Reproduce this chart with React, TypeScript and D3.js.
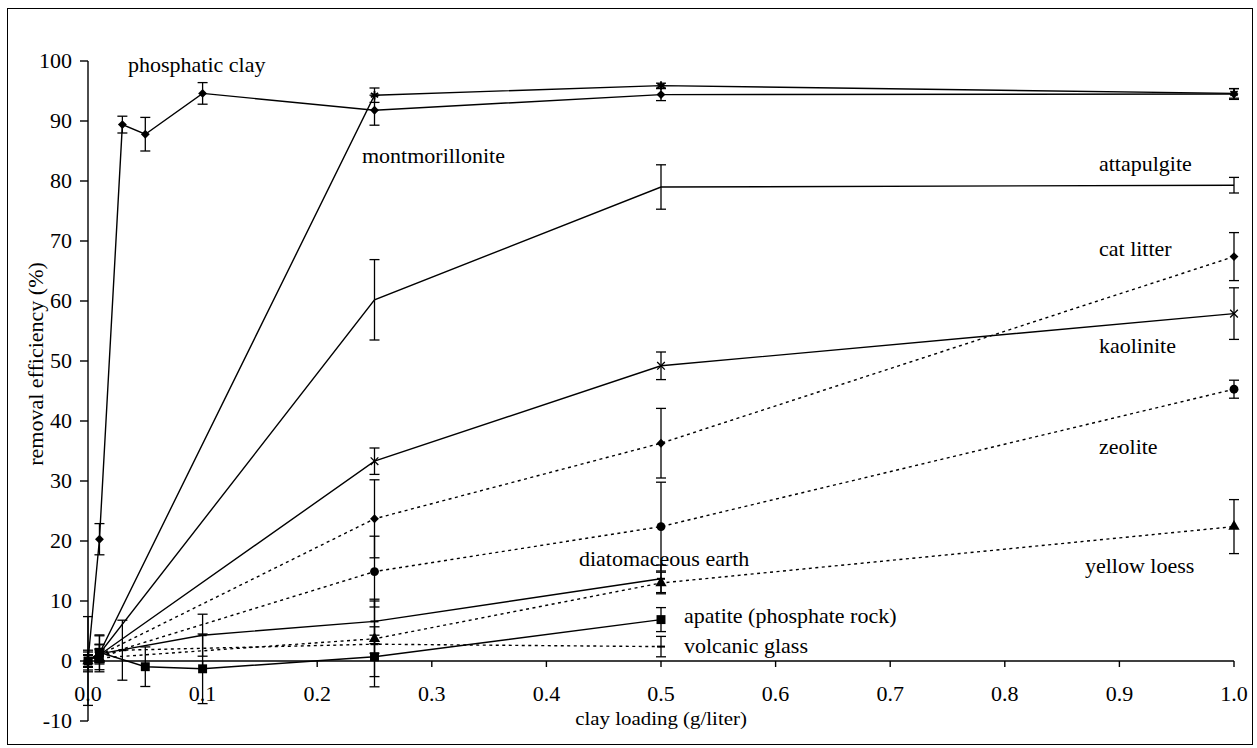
import React from 'react'
import * as d3 from 'd3'

const FONT = '"Liberation Serif", "Times New Roman", serif'

// x positions (g/liter) and removal efficiency (%) with error (+/-) for each clay
const phosphaticX = [0, 0.01, 0.03, 0.05, 0.1, 0.25, 0.5, 1.0]
const phosphaticY = [0, 20.3, 89.4, 87.8, 94.6, 91.8, 94.4, 94.5]
const phosphaticErr = [0, 2.6, 1.4, 2.8, 1.8, 2.5, 1.0, 0.9]

const montmorilloniteX = [0, 0.01, 0.25, 0.5, 1.0]
const montmorilloniteY = [0, 1.3, 94.3, 95.9, 94.6]
const montmorilloniteErr = [1.5, 1.5, 1.2, 0.4, 0.8]

const attapulgiteX = [0, 0.01, 0.25, 0.5, 1.0]
const attapulgiteY = [0, 1.2, 60.2, 79.0, 79.3]
const attapulgiteErr = [7.4, 1.5, 6.7, 3.7, 1.3]

const kaoliniteX = [0, 0.01, 0.25, 0.5, 1.0]
const kaoliniteY = [0, 1.0, 33.3, 49.2, 57.9]
const kaoliniteErr = [1.0, 1.0, 2.2, 2.3, 4.3]

const catLitterX = [0, 0.01, 0.25, 0.5, 1.0]
const catLitterY = [0, 1.0, 23.7, 36.3, 67.4]
const catLitterErr = [1.0, 1.0, 6.5, 5.8, 4.0]

const zeoliteX = [0, 0.01, 0.25, 0.5, 1.0]
const zeoliteY = [0, 0.8, 14.9, 22.4, 45.3]
const zeoliteErr = [1.0, 1.0, 5.9, 7.4, 1.5]

const yellowLoessX = [0, 0.01, 0.25, 0.5, 1.0]
const yellowLoessY = [0, 0.5, 3.7, 13.0, 22.4]
const yellowLoessErr = [1.0, 1.0, 6.3, 1.8, 4.5]

const diatomaceousX = [0, 0.01, 0.1, 0.25, 0.5]
const diatomaceousY = [0, 1.2, 4.3, 6.6, 13.7]
const diatomaceousErr = [1.0, 3.0, 3.5, 3.7, 2.3]

const apatiteX = [0, 0.01, 0.05, 0.1, 0.25, 0.5]
const apatiteY = [0, 1.45, -0.95, -1.3, 0.7, 6.9]
const apatiteErr = [1.8, 2.9, 3.3, 5.8, 5.0, 2.0]

const volcanicX = [0, 0.03, 0.25, 0.5]
const volcanicY = [0, 1.8, 2.8, 2.4]
const volcanicErr = [1.0, 5.0, 1.5, 1.7]

const xTicks = [0, 0.1, 0.2, 0.3, 0.4, 0.5, 0.6, 0.7, 0.8, 0.9, 1.0]
const yTicks = [-10, 0, 10, 20, 30, 40, 50, 60, 70, 80, 90, 100]

const series = [
  { name: 'phosphatic clay', xs: phosphaticX, ys: phosphaticY, err: phosphaticErr, dotted: false, marker: 'diamond' },
  { name: 'montmorillonite', xs: montmorilloniteX, ys: montmorilloniteY, err: montmorilloniteErr, dotted: false, marker: 'star' },
  { name: 'attapulgite', xs: attapulgiteX, ys: attapulgiteY, err: attapulgiteErr, dotted: false, marker: 'none' },
  { name: 'kaolinite', xs: kaoliniteX, ys: kaoliniteY, err: kaoliniteErr, dotted: false, marker: 'x' },
  { name: 'cat litter', xs: catLitterX, ys: catLitterY, err: catLitterErr, dotted: true, marker: 'diamond' },
  { name: 'zeolite', xs: zeoliteX, ys: zeoliteY, err: zeoliteErr, dotted: true, marker: 'circle' },
  { name: 'yellow loess', xs: yellowLoessX, ys: yellowLoessY, err: yellowLoessErr, dotted: true, marker: 'triangle' },
  { name: 'diatomaceous earth', xs: diatomaceousX, ys: diatomaceousY, err: diatomaceousErr, dotted: false, marker: 'dash' },
  { name: 'apatite (phosphate rock)', xs: apatiteX, ys: apatiteY, err: apatiteErr, dotted: false, marker: 'square' },
  { name: 'volcanic glass', xs: volcanicX, ys: volcanicY, err: volcanicErr, dotted: true, marker: 'dash' },
]

// where each series name sits on the plot (px)
const labelPos = {
  'phosphatic clay': [128, 72],
  'montmorillonite': [362, 163],
  'attapulgite': [1099, 171],
  'cat litter': [1099, 256],
  'kaolinite': [1099, 353],
  'zeolite': [1099, 454],
  'yellow loess': [1085, 573],
  'diatomaceous earth': [579, 566],
  'apatite (phosphate rock)': [684, 623],
  'volcanic glass': [684, 653],
}

const SX = 1.1 // the source figure is a bit stretched sideways

const Label = ({ x, y, anchor = 'start', children, size = 20 }) => (
  <text
    transform={`translate(${x},${y}) scale(${SX},1)`}
    textAnchor={anchor}
    fontFamily={FONT}
    fontSize={size}
    fill="#000"
  >
    {children}
  </text>
)

const Marker = ({ type, cx, cy }) => {
  const t = `translate(${cx},${cy})`
  if (type === 'diamond') return <path transform={t} d={d3.symbol(d3.symbolDiamond2, 50)()} fill="#000" />
  if (type === 'square') return <path transform={t} d={d3.symbol(d3.symbolSquare, 80)()} fill="#000" />
  if (type === 'circle') return <path transform={t} d={d3.symbol(d3.symbolCircle, 62)()} fill="#000" />
  if (type === 'triangle') return <path transform={t} d={d3.symbol(d3.symbolTriangle, 55)()} fill="#000" />
  if (type === 'x') return <path transform={t} d={d3.symbol(d3.symbolTimes, 40)()} fill="none" stroke="#000" strokeWidth={1.3} />
  if (type === 'star') return <path transform={t} d={d3.symbol(d3.symbolAsterisk, 50)()} fill="none" stroke="#000" strokeWidth={1.8} />
  if (type === 'dash') return <line x1={cx - 4} x2={cx + 4} y1={cy} y2={cy} stroke="#000" strokeWidth={2} />
  return null
}

export default function App () {
  const width = 1257
  const height = 748
  const x = d3.scaleLinear().domain([0, 1]).range([88, 1234])
  const y = d3.scaleLinear().domain([-10, 100]).range([721, 61])
  const line = d3.line().x(d => x(d[0])).y(d => y(d[1]))

  return (
    <svg width={width} height={height} style={{ position: 'absolute', left: 0, top: 0, background: '#fff' }}>
      <rect x={7.5} y={8.5} width={1245} height={736} fill="#fff" stroke="#000" strokeWidth={1} />

      {/* axes */}
      <line x1={x(0)} x2={x(0)} y1={y(100)} y2={y(-10)} stroke="#000" strokeWidth={1.4} />
      <line x1={x(0)} x2={x(1)} y1={y(0)} y2={y(0)} stroke="#000" strokeWidth={1.4} />
      {yTicks.map(t => (
        <g key={t}>
          <line x1={x(0) - 8} x2={x(0)} y1={y(t)} y2={y(t)} stroke="#000" strokeWidth={1.4} />
          <Label x={x(0) - 16} y={y(t) + 7} anchor="end">{t}</Label>
        </g>
      ))}
      {xTicks.map(t => (
        <g key={t}>
          <line x1={x(t)} x2={x(t)} y1={y(0)} y2={y(0) + 6} stroke="#000" strokeWidth={1.4} />
          <Label x={x(t)} y={701} anchor="middle">{t.toFixed(1)}</Label>
        </g>
      ))}
      <Label x={x(0.5)} y={725} anchor="middle" size={19}>clay loading (g/liter)</Label>
      <text
        transform={`translate(43,${y(49.5)}) rotate(-90)`}
        textAnchor="middle"
        fontFamily={FONT}
        fontSize={22}
      >
        removal efficiency (%)
      </text>

      {/* series */}
      {series.map(s => {
        const pts = s.xs.map((v, i) => [v, s.ys[i]])
        return (
          <g key={s.name}>
            <path
              d={line(pts)}
              fill="none"
              stroke="#000"
              strokeWidth={1.4}
              strokeDasharray={s.dotted ? '3,3.5' : null}
            />
            {pts.map((p, i) => s.err[i] > 0 && (
              <g key={i} stroke="#000" strokeWidth={1.3}>
                <line x1={x(p[0])} x2={x(p[0])} y1={y(p[1] - s.err[i])} y2={y(p[1] + s.err[i])} />
                <line x1={x(p[0]) - 5} x2={x(p[0]) + 5} y1={y(p[1] - s.err[i])} y2={y(p[1] - s.err[i])} />
                <line x1={x(p[0]) - 5} x2={x(p[0]) + 5} y1={y(p[1] + s.err[i])} y2={y(p[1] + s.err[i])} />
              </g>
            ))}
            {pts.map((p, i) => <Marker key={'m' + i} type={s.marker} cx={x(p[0])} cy={y(p[1])} />)}
            <Label x={labelPos[s.name][0]} y={labelPos[s.name][1]}>{s.name}</Label>
          </g>
        )
      })}
    </svg>
  )
}
